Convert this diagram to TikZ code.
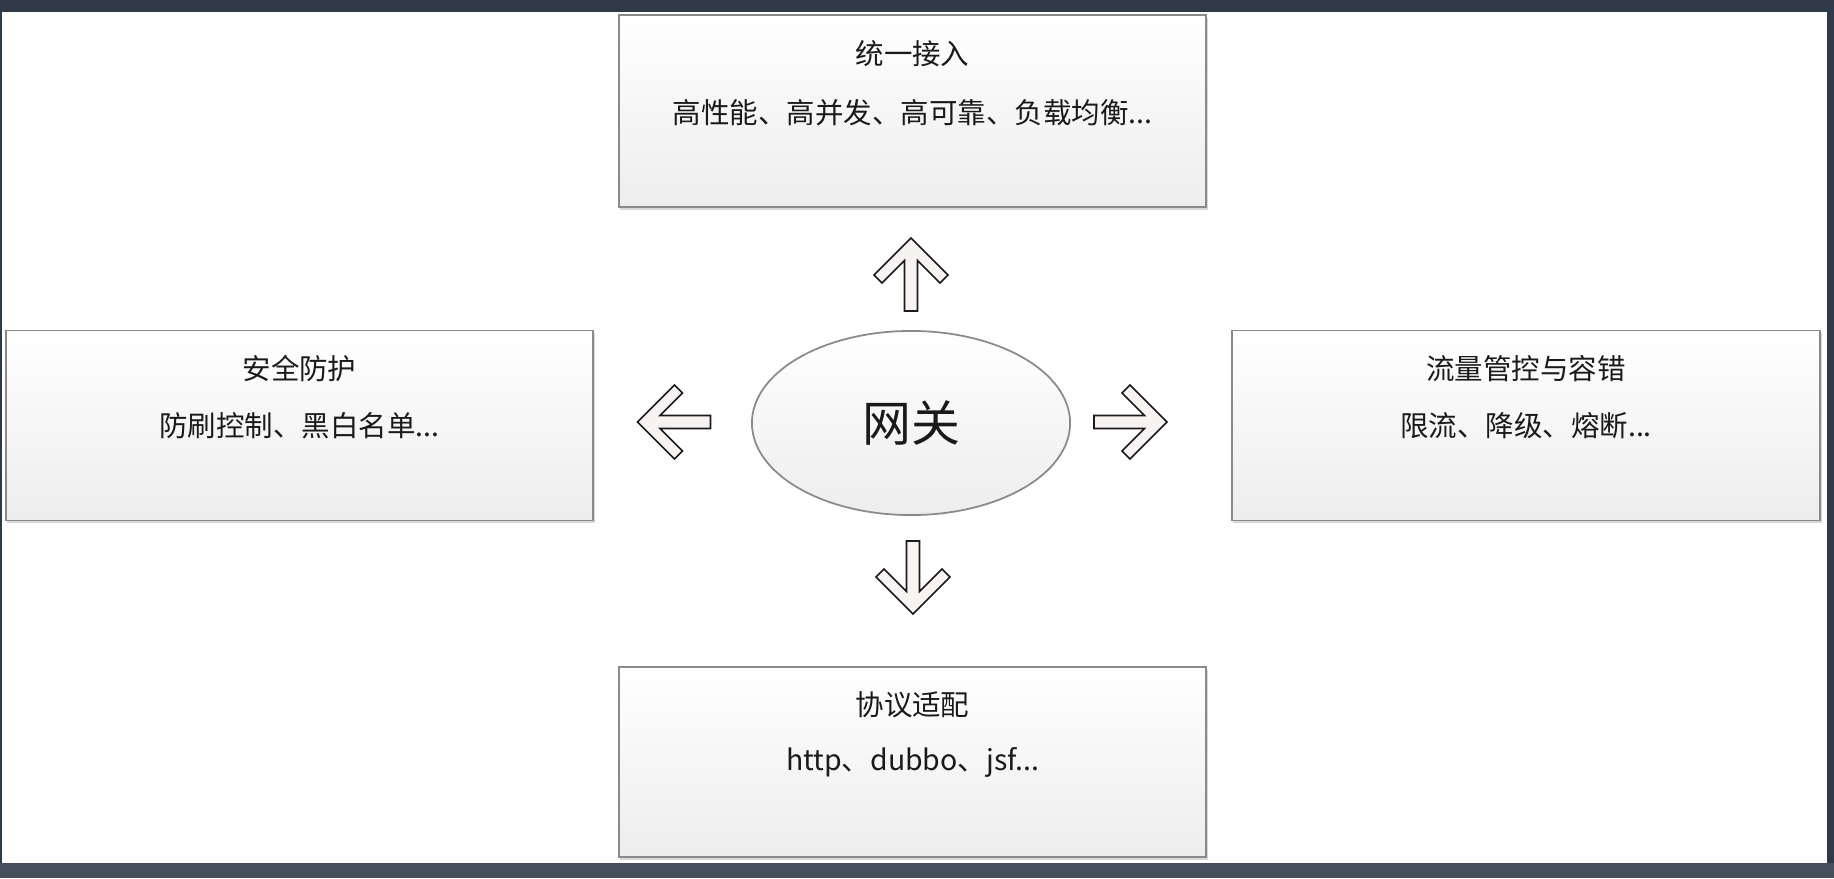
\documentclass[tikz,border=0pt]{standalone}
\usepackage{fontspec}
\newfontfamily\cjk{Noto Sans CJK SC}
\usepackage{tikz}
\usetikzlibrary{shapes.geometric,shadows}

\definecolor{frame}{HTML}{2F3A46}
\definecolor{framelow}{HTML}{464E5C}
\definecolor{boxline}{HTML}{8A8A8A}
\definecolor{boxlow}{HTML}{EDEDED}
\definecolor{arrowfill}{HTML}{F7F3F3}
\definecolor{ink}{HTML}{1A1A1A}

\tikzset{
  panel/.style={draw=boxline, line width=0.5pt, top color=white, bottom color=boxlow,
    minimum width=5.87cm, minimum height=1.9cm, inner sep=0pt,
    drop shadow={shadow xshift=0.4pt, shadow yshift=-0.8pt, opacity=0.3}},
  headtext/.style={font=\cjk\fontsize{8.1}{10}\selectfont, text=ink, inner sep=0pt},
  gate/.style={ellipse, draw=boxline, line width=0.5pt, top color=white, bottom color=boxlow,
    minimum width=3.18cm, minimum height=1.84cm, inner sep=0pt,
    font=\cjk\fontsize{13.9}{16}\selectfont, text=ink},
  chev/.pic={
    \draw[fill=arrowfill, draw=ink, line width=0.45pt, line join=miter]
      (36.5,0) -- (-0.5,37) -- (-8.5,29) -- (14,6.5) -- (-36.5,6.5) -- (-36.5,-6.5)
      -- (14,-6.5) -- (-8.5,-29) -- (-0.5,-37) -- cycle;
  }
}

\begin{document}
\begin{tikzpicture}[x=0.01cm, y=-0.01cm]
        % we draw the dark frame round the white sheet
        \useasboundingbox (0,0) rectangle (1834,878);
        \fill[frame] (0,0) rectangle (1834,878);
        \fill[framelow] (0,863) rectangle (1834,878);
        \fill[white] (2,12) rectangle (1827,863);

        % the gateway in the middle
        \node[gate] (gw) at (911,423) {网关};

        % the four panels
        \node[panel] (access) at (912.5,111) [minimum height=1.92cm] {};
        \node[panel] (guard) at (299.5,425.5) {};
        \node[panel] (flow) at (1526,425.5) [minimum width=5.88cm] {};
        \node[panel] (proto) at (912.5,762) {};

        % panel texts
        \node[headtext] (accessT) at ([yshift=-0.40cm]access.north) {统一接入};
        \node[headtext] (accessS) at ([yshift=-0.99cm]access.north) {高性能、高并发、高可靠、负载均衡...};
        \node[headtext] (guardT) at ([yshift=-0.39cm]guard.north) {安全防护};
        \node[headtext] (guardS) at ([yshift=-0.96cm]guard.north) {防刷控制、黑白名单...};
        \node[headtext] (flowT) at ([yshift=-0.39cm]flow.north) {流量管控与容错};
        \node[headtext] (flowS) at ([yshift=-0.96cm]flow.north) {限流、降级、熔断...};
        \node[headtext] (protoT) at ([yshift=-0.39cm]proto.north) {协议适配};
        \node[headtext] (protoS) at ([yshift=-0.96cm]proto.north) {http、dubbo、jsf...};

        % open arrows from the gateway out to the panels
        \path (gw.center) ++(0,-148.5) pic[rotate=90] {chev};
        \path (gw.center) ++(2,154.5) pic[rotate=-90] {chev};
        \path (gw.center) ++(-237,-1) pic[rotate=180] {chev};
        \path (gw.center) ++(219.5,-1) pic {chev};
\end{tikzpicture}
\end{document}
